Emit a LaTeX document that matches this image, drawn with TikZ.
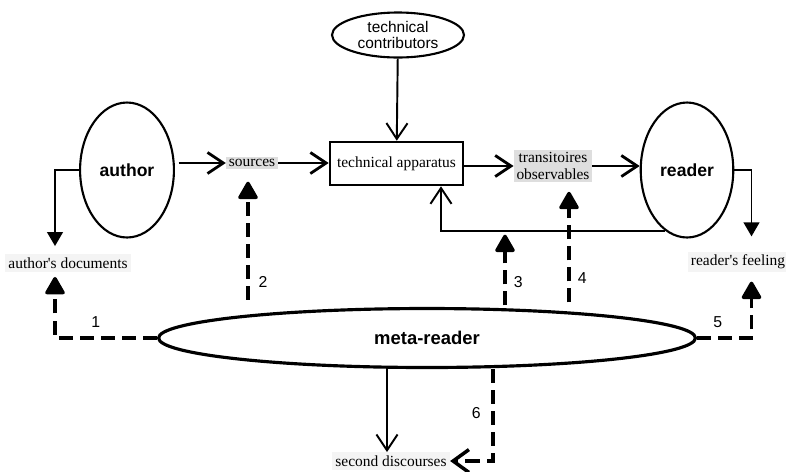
\documentclass[tikz,border=0pt]{standalone}
\usepackage{fontspec}
\setmainfont{Liberation Serif}
\setsansfont{Liberation Sans}
\usepackage{xcolor}
\usetikzlibrary{shapes.geometric,arrows.meta,positioning,calc}

\definecolor{termgray}{HTML}{DEDEDE}
\definecolor{notegray}{HTML}{F4F4F4}

\tikzset{
  person/.style={ellipse, draw, line width=1.2pt, minimum width=1.76cm, minimum height=2.7cm, font=\sffamily\bfseries\fontsize{10}{12}\selectfont},
  term/.style={fill=termgray, inner sep=1.5pt, align=center, font=\fontsize{8.8}{9.8}\selectfont},
  note/.style={fill=notegray, inner sep=1.8pt, font=\fontsize{8.8}{10}\selectfont},
  flow/.style={line width=1.6pt, -{Straight Barb[length=9pt,width=12pt]}},
  thinflow/.style={line width=1.1pt, -{Straight Barb[length=9pt,width=12pt]}},
  drop/.style={line width=1.1pt, -{Triangle[length=8pt,width=9pt]}},
  probe/.style={line width=2pt, dash pattern=on 8pt off 4pt, -{Triangle[length=11pt,width=12pt,round]}},
  num/.style={font=\sffamily\fontsize{9}{10}\selectfont, inner sep=1pt},
}

\begin{document}
\begin{tikzpicture}[x=0.02cm, y=-0.02cm]
    \useasboundingbox (0,0) rectangle (786,471);
    % actors
    \node[person] (author) at (127,170) {author};
    \node[person] (reader) at (687,170) {reader};
    \node[ellipse, draw, line width=1.2pt, minimum width=2.64cm, minimum height=0.9cm, inner xsep=0pt, inner ysep=-1.5pt, align=center, font=\sffamily\fontsize{8.8}{9.5}\selectfont] (contrib) at (398,35) {technical\\contributors};
    \node[draw, line width=1.5pt, minimum width=2.66cm, minimum height=0.86cm, font=\fontsize{8.8}{10}\selectfont] (app) at (396.5,163.5) {technical apparatus};
    \node[ellipse, draw, line width=1.8pt, minimum width=10.74cm, minimum height=1.18cm, font=\sffamily\bfseries\fontsize{10.5}{12}\selectfont] (meta) at (427,338) {meta-reader};

    % texts
    \node[term] (sources) at (252,163) {sources};
    \node[term] (trans) at (553,166) {transitoires\\observables};
    \node[note] (docs) at (68,263) {author\textquotesingle s documents};
    \node[note] (feeling) at (738,262) {reader\textquotesingle s feeling};
    \node[note] (second) at (391,461) {second discourses};

    % main chain
    \draw[thinflow] (contrib) -- (app);
    \draw[flow, shorten <=2pt] (sources.west -| author.east) -- (sources.west);
    \draw[flow] (sources.east) -- (sources.east -| app.west);
    \draw[flow] (trans.west -| app.east) -- (trans.west);
    \draw[flow] (trans.east) -- (trans.east -| reader.west);
    \draw[thinflow] (reader.250) -| ([xshift=0.89cm]app.south);
    \draw[drop, shorten >=0.16cm] (author.west) -| ([xshift=-0.26cm]docs.north);
    \draw[drop, shorten >=0.3cm] (reader.east) -| ([xshift=0.27cm]feeling.north);
    \draw[thinflow] ([xshift=-0.08cm]second.north |- meta.south) -- ([xshift=-0.08cm]second.north);

    % meta-reader
    \draw[probe, shorten >=0.1cm] (meta.west) -| ([xshift=-0.26cm]docs.south) node[num, pos=0.3, above=4pt] {1};
    \draw[probe, shorten <=0.14cm, shorten >=0.24cm] ([xshift=-0.08cm]sources.south |- meta.north) -- ([xshift=-0.08cm]sources.south) node[num, pos=0.185, right=4pt] {2};
    \draw[probe, shorten <=0.03cm, shorten >=0.08cm] ([xshift=2.17cm]app.south |- meta.north) -- ([xshift=2.17cm]app.south |- reader.250) node[num, pos=0.32, right=3pt] {3};
    \draw[probe, shorten <=0.09cm, shorten >=0.18cm] ([xshift=0.32cm]trans.south |- meta.north) -- ([xshift=0.32cm]trans.south) node[num, pos=0.23, right=3pt] {4};
    \draw[probe, shorten >=0.18cm] (meta.east) -| ([xshift=0.27cm]feeling.south) node[num, pos=0.19, above=4pt] {5};
    \draw[probe, -{Straight Barb[length=9pt,width=13pt]}] ([xshift=1.32cm]meta.south) |- (second.east) node[num, pos=0.24, left=5pt] {6};
\end{tikzpicture}
\end{document}
